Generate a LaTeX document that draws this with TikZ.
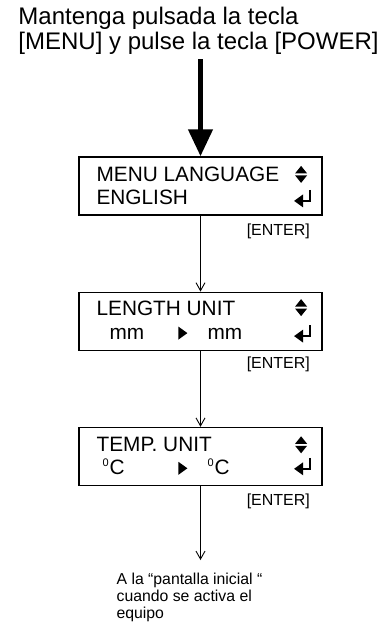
\documentclass[tikz,border=0pt]{standalone}
\usepackage{fontspec}
\setmainfont{Liberation Sans}
\usetikzlibrary{positioning,arrows.meta}
\newcommand{\degmark}{\raisebox{8pt}{\fontsize{11}{11}\selectfont 0}\kern1pt}

\begin{document}
\begin{tikzpicture}[
    x=1pt, y=1pt,
    node distance=76pt,
    panel/.style={
        draw,
        line width=1.2pt,
        minimum width=243pt,
        minimum height=58pt,
        inner sep=0pt
    },
    paneltext/.style={
        anchor=base west,
        inner sep=0pt,
        font=\fontsize{20.8}{24}\selectfont
    },
    holdtext/.style={
        align=left,
        inner sep=0pt,
        font=\fontsize{24}{25}\selectfont
    },
    keylabel/.style={
        inner sep=0pt,
        font=\fontsize{16}{18}\selectfont
    },
    notetext/.style={
        align=left,
        inner sep=0pt,
        font=\fontsize{15.8}{16.8}\selectfont
    },
    steparrow/.style={-{Straight Barb[length=8pt,width=9pt]}, line width=0.9pt},
    pressarrow/.style={-{Triangle[length=27pt,width=23.5pt]}, line width=5.5pt},
    updown/.pic={
        \fill (-6,1) -- (6,1) -- (0,8.5) -- cycle;
        \fill (-6,-1) -- (6,-1) -- (0,-8.5) -- cycle;
    },
    enterkey/.pic={
        \draw[line width=1.5pt] (0,11) -- (0,0) -- (-8,0);
        \fill (-7,6.5) -- (-7,-6.5) -- (-16,0) -- cycle;
    },
    playmark/.pic={
        \fill (0,0) -- (0,13) -- (9,6.5) -- cycle;
    }
]
\useasboundingbox (0,0) rectangle (390,-622);

\node[panel] (lang) at (200.5,-186) {};
\node[panel, below=of lang] (lengthu) {};
\node[panel, below=of lengthu] (tempu) {};

\node[holdtext, above=102pt of lang, xshift=-2pt] (hold) {Mantenga pulsada la tecla\\{}[MENU] y pulse la tecla [POWER]};
\draw[pressarrow, shorten <=5pt] (hold.south -| lang.north) -- (lang.north);

% menu language
\node[paneltext] (langname) at ([shift={(18,-25)}]lang.north west) {MENU LANGUAGE};
\node[paneltext] (langvalue) at ([shift={(18,-48)}]lang.north west) {ENGLISH};
\pic at ([shift={(-21.5,-18)}]lang.north east) {updown};
\pic at ([shift={(-12.5,-44.5)}]lang.north east) {enterkey};
\node[keylabel, below left=8pt and 12.5pt of lang.south east] (langkey) {[ENTER]};

% length unit
\node[paneltext] (lengthname) at ([shift={(18,-24)}]lengthu.north west) {LENGTH UNIT};
\node[paneltext] (lengthold) at ([shift={(31,-48)}]lengthu.north west) {mm};
\pic at ([shift={(100,-48)}]lengthu.north west) {playmark};
\node[paneltext] (lengthnew) at ([shift={(129,-48)}]lengthu.north west) {mm};
\pic at ([shift={(-21.5,-16)}]lengthu.north east) {updown};
\pic at ([shift={(-12.5,-44.5)}]lengthu.north east) {enterkey};
\node[keylabel, below left=6pt and 12.5pt of lengthu.south east] (lengthkey) {[ENTER]};

% temp unit
\node[paneltext] (tempname) at ([shift={(18,-25)}]tempu.north west) {TEMP. UNIT};
\node[paneltext] (tempold) at ([shift={(24,-48)}]tempu.north west) {\degmark C};
\pic at ([shift={(100,-48)}]tempu.north west) {playmark};
\node[paneltext] (tempnew) at ([shift={(129,-48)}]tempu.north west) {\degmark C};
\pic at ([shift={(-21.5,-18)}]tempu.north east) {updown};
\pic at ([shift={(-12.5,-42)}]tempu.north east) {enterkey};
\node[keylabel, below left=8pt and 12.5pt of tempu.south east] (tempkey) {[ENTER]};

\coordinate[below=74pt of tempu] (homein);
\node[notetext, below right=87pt and 38pt of tempu.south west] (home) {A la “pantalla inicial “\\cuando se activa el\\equipo};

\draw[steparrow] (lang) -- (lengthu);
\draw[steparrow] (lengthu) -- (tempu);
\draw[steparrow] (tempu) -- (homein);
\end{tikzpicture}
\end{document}
